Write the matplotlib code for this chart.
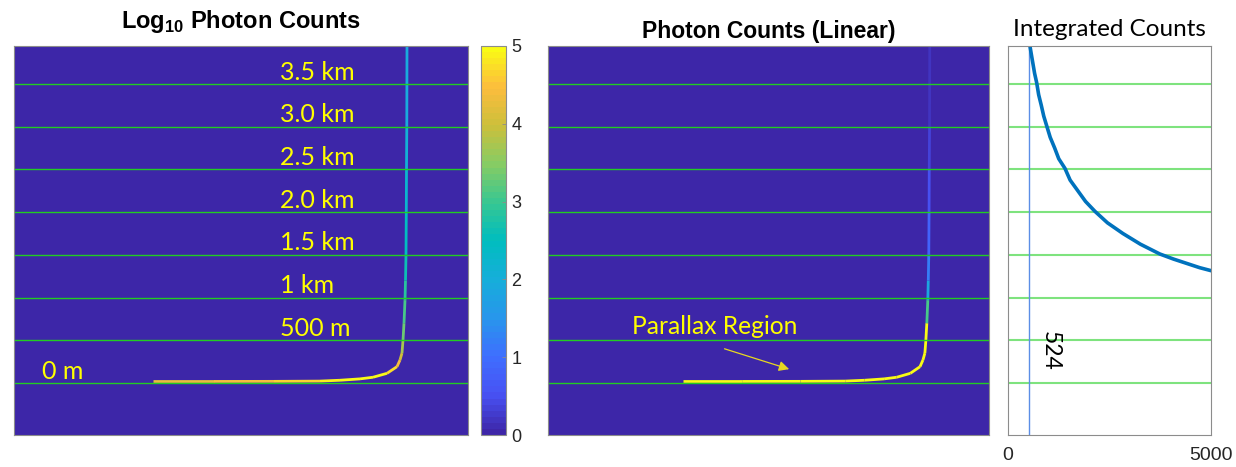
import numpy as np
import matplotlib
matplotlib.use('Agg')
import matplotlib.pyplot as plt
from matplotlib.colors import LinearSegmentedColormap, Normalize
from matplotlib.collections import LineCollection

plt.rcParams['mathtext.fontset'] = 'custom'
plt.rcParams['mathtext.bf'] = 'Liberation Sans:bold'
plt.rcParams['mathtext.rm'] = 'Liberation Sans'

# parula-like colormap (64 steps, like matlab)
PARULA = LinearSegmentedColormap.from_list('parula', [
    (0.2422, 0.1504, 0.6603), (0.2810, 0.3228, 0.9579), (0.2440, 0.4358, 0.9988),
    (0.1540, 0.5902, 0.9218), (0.0851, 0.6834, 0.8547), (0.0000, 0.7413, 0.7467),
    (0.2200, 0.7800, 0.5700), (0.5300, 0.8000, 0.3900), (0.8000, 0.7500, 0.2300),
    (0.9900, 0.7400, 0.2400), (0.9769, 0.9839, 0.0805)], N=64)

# ridge of the photon counts image (detector column, altitude in m, log10 counts)
ridge_col = [139, 200, 260, 306, 326, 346, 359, 373, 383, 386, 388, 389, 390,
             391, 391.5, 392, 392.3, 392.5, 392.8, 393]
ridge_alt = [18, 18, 19, 22, 32, 48, 67, 113, 191, 269, 350, 500, 700,
             970, 1200, 1500, 2000, 2500, 3000, 3950]
ridge_log = [4.2, 4.3, 4.5, 4.8, 5.0, 5.0, 5.0, 4.9, 4.6, 4.2, 3.9, 3.5, 3.2,
             2.9, 2.75, 2.55, 2.35, 2.15, 2.0, 1.75]

# integrated counts vs altitude
int_alt = [3944, 3875, 3750, 3625, 3516, 3375, 3250, 3125, 3012, 2875, 2750, 2625,
           2513, 2375, 2250, 2125, 2010, 1875, 1750, 1625, 1510, 1450, 1400, 1350,
           1315, 1250]
int_cnt = [541, 565, 610, 655, 706, 755, 820, 880, 952, 1040, 1150, 1250,
           1402, 1530, 1720, 1910, 2140, 2450, 2830, 3260, 3740, 4080, 4400, 4720,
           5000, 5500]

# range marker lines
mark_alt = [0, 500, 1000, 1500, 2000, 2500, 3000, 3500]
mark_lbl = ['0 m', '500 m', '1 km', '1.5 km', '2.0 km', '2.5 km', '3.0 km', '3.5 km']

N_COLS = 454
ALT_MIN, ALT_MAX = -609, 3945
W, H = 1236, 467


def rect(x0, y0, x1, y1):
    return [x0 / W, 1 - y1 / H, (x1 - x0) / W, (y1 - y0) / H]


def ridge_segments():
    pts = np.column_stack([ridge_col, ridge_alt])
    return np.stack([pts[:-1], pts[1:]], axis=1)


def style_image_axes(ax):
    ax.set_xticks([])
    ax.set_yticks([])
    for s in ax.spines.values():
        s.set_color('#8c8c8c')
        s.set_linewidth(0.8)


fig = plt.figure(figsize=(W / 100, H / 100), dpi=100)
ax1 = fig.add_axes(rect(14, 46, 468, 435))
cax = fig.add_axes(rect(481, 46, 506, 435))
ax2 = fig.add_axes(rect(548, 46, 989, 435))
ax3 = fig.add_axes(rect(1008, 46, 1211, 435))

ext = [0, N_COLS, ALT_MIN, ALT_MAX]
seg = ridge_segments()
vals = np.array(ridge_log)
seg_vals = (vals[:-1] + vals[1:]) / 2

# --- log10 panel
im = ax1.imshow(np.zeros((2, 2)), extent=ext, aspect='auto', origin='lower',
                cmap=PARULA, vmin=0, vmax=5)
lc = LineCollection(seg, cmap=PARULA, norm=Normalize(0, 5), linewidths=2.0)
lc.set_array(seg_vals)
ax1.add_collection(lc)
for a in mark_alt:
    ax1.axhline(a, color='#22cc22', lw=1)
for a, lbl in zip(mark_alt, mark_lbl):
    x = 28 if a == 0 else 266
    ax1.text(x, a + 140, lbl, color='#ffff00', fontsize=18, family='Lato',
             ha='left', va='center')
ax1.set_xlim(0, N_COLS)
ax1.set_ylim(ALT_MIN, ALT_MAX)
style_image_axes(ax1)
ax1.set_title('Log$_{\\mathbf{10}}$ Photon Counts', fontsize=17, fontweight='bold',
              family='Liberation Sans', pad=13)

cb = fig.colorbar(im, cax=cax, ticks=range(6))
cb.outline.set_edgecolor('#8c8c8c')
cb.outline.set_linewidth(0.8)
cax.tick_params(direction='in', length=3, width=0.6, labelsize=13,
                colors='#8c8c8c', labelcolor='#262626', pad=4)
for t in cax.get_yticklabels():
    t.set_family('Liberation Sans')

# --- linear panel
ax2.imshow(np.zeros((2, 2)), extent=ext, aspect='auto', origin='lower',
           cmap=PARULA, vmin=0, vmax=1800)
lc2 = LineCollection(seg, cmap=PARULA, norm=Normalize(0, 1800), linewidths=2.0)
lc2.set_array(10 ** seg_vals)
ax2.add_collection(lc2)
for a in mark_alt:
    ax2.axhline(a, color='#22cc22', lw=1)
ax2.text(86, 667, 'Parallax Region', color='#ffff00', fontsize=17.7, family='Lato',
         ha='left', va='center')
ax2.annotate('', xy=(251, 152), xytext=(179, 410),
             arrowprops=dict(arrowstyle='-|>', color='#e8d820', lw=0.9,
                             mutation_scale=15))
ax2.set_xlim(0, N_COLS)
ax2.set_ylim(ALT_MIN, ALT_MAX)
style_image_axes(ax2)
ax2.set_title('Photon Counts (Linear)', fontsize=16.5, fontweight='bold',
              family='Liberation Sans', pad=6)

# --- integrated counts
for a in mark_alt:
    ax3.axhline(a, color='#7ee37e', lw=1.5)
ax3.axvline(524, color='#5b8ee6', lw=1)
ax3.plot(int_cnt, int_alt, color='#0072BD', lw=2.6)
ax3.text(1034, 375, '524', rotation=-90, fontsize=16.5, family='Lato',
         ha='center', va='center')
ax3.set_xlim(0, 5000)
ax3.set_ylim(ALT_MIN, ALT_MAX)
ax3.set_xticks([0, 5000])
ax3.set_yticks([])
ax3.tick_params(axis='x', length=0, labelsize=14, pad=9, labelcolor='#262626')
for t in ax3.get_xticklabels():
    t.set_family('Liberation Sans')
for s in ax3.spines.values():
    s.set_color('#8c8c8c')
    s.set_linewidth(0.8)
ax3.set_title('Integrated Counts', fontsize=17.5, family='Lato', pad=7)

fig.savefig('out.png', dpi=100)
